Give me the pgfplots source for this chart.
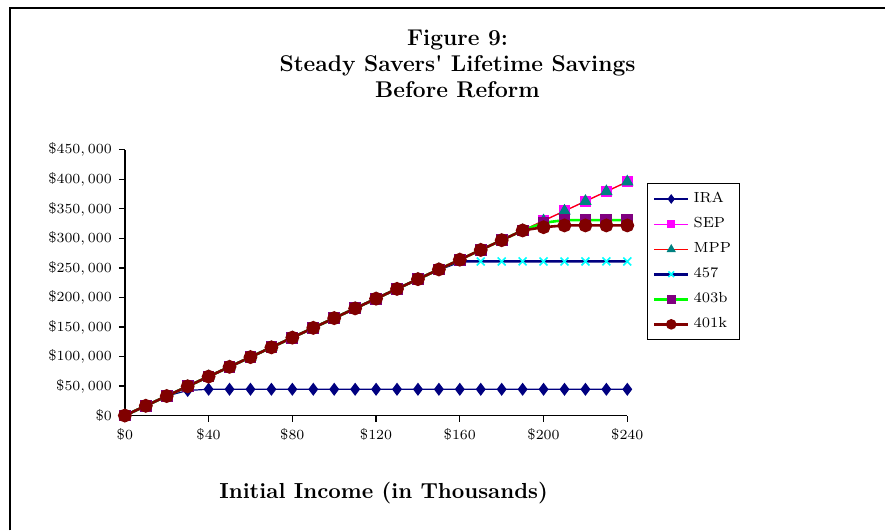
\documentclass[border=0pt]{standalone}
\usepackage{pgfplots}
\usepackage{pgfplotstable}
\pgfplotsset{compat=1.18}

\definecolor{iranavy}{RGB}{0,0,128}
\definecolor{sepmag}{RGB}{255,0,255}
\definecolor{mppred}{RGB}{255,0,0}
\definecolor{mppteal}{RGB}{0,128,128}
\definecolor{xcyan}{RGB}{0,255,255}
\definecolor{bgreen}{RGB}{0,255,0}
\definecolor{bpurple}{RGB}{128,0,128}
\definecolor{kred}{RGB}{128,0,0}

% income (thousands) vs lifetime savings, one column per plan
\pgfplotstableread{
x   ira    sep    mpp    f457   b403   k401
0   0      0      0      0      0      0
10  16500  16500  16500  16500  16500  16500
20  33000  33000  33000  33000  33000  33000
30  42500  49500  49500  49500  49500  49500
40  44500  66000  66000  66000  66000  66000
50  44500  82500  82500  82500  82500  82500
60  44500  99000  99000  99000  99000  99000
70  44500  115500 115500 115500 115500 115500
80  44500  132000 132000 132000 132000 132000
90  44500  148500 148500 148500 148500 148500
100 44500  165000 165000 165000 165000 165000
110 44500  181500 181500 181500 181500 181500
120 44500  198000 198000 198000 198000 198000
130 44500  214500 214500 214500 214500 214500
140 44500  231000 231000 231000 231000 231000
150 44500  247500 247500 247500 247500 247500
160 44500  264000 264000 261000 264000 264000
170 44500  280500 280500 261000 280500 280500
180 44500  297000 297000 261000 297000 297000
190 44500  313500 313500 261000 313500 313500
200 44500  330000 330000 261000 326500 319000
210 44500  346500 346500 261000 331000 322000
220 44500  363000 363000 261000 331000 322000
230 44500  379500 379500 261000 331000 322000
240 44500  396000 396000 261000 331000 322000
}\savings

\begin{document}
\begin{tikzpicture}
% page and frame
\path (0pt,0pt) rectangle (443pt,-265.5pt);
\draw[line width=1pt] (5pt,-265.5pt) -- (5pt,-4pt) -- (443pt,-4pt);

\node[align=center, font=\fontsize{11.4}{13}\selectfont\bfseries] at (229pt,-32pt)
  {Figure 9:\\Steady Savers\textquotesingle\ Lifetime Savings\\Before Reform};
\node[font=\fontsize{10.9}{12}\selectfont\bfseries] at (192pt,-247pt)
  {Initial Income (in Thousands)};

\begin{axis}[
    at={(62.5pt,-208pt)}, anchor=south west,
    scale only axis,
    width=251.5pt, height=133pt,
    xmin=0, xmax=240, ymin=0, ymax=450000,
    axis x line*=bottom, axis y line*=left,
    axis line style={line width=0.75pt},
    xtick={0,40,...,240},
    ytick={0,50000,...,450000},
    tick align=outside,
    major tick length=3pt,
    tick style={black, line width=0.6pt},
    scaled y ticks=false,
    xticklabel={\$\pgfmathprintnumber{\tick}},
    yticklabel={\$\pgfmathprintnumber[fixed, precision=0, 1000 sep={,}]{\tick}},
    tick label style={font=\fontsize{7.3}{9}\selectfont},
    clip=false,
    legend cell align=left,
    legend image post style={every mark/.append style={scale=0.7}},
    legend style={
        at={(1.04,0.876)}, anchor=north west,
        font=\fontsize{7.3}{8}\selectfont,
        draw=black, line width=0.5pt,
        row sep=2pt,
        inner sep=2.5pt,
    },
]
\addplot[iranavy, line width=0.6pt, mark=diamond*, mark size=2.8pt,
    mark options={fill=iranavy, draw=iranavy}] table[x=x, y=ira] {\savings};
\addlegendentry{IRA}
\addplot[sepmag, line width=0.6pt, mark=square*, mark size=2.5pt,
    mark options={fill=sepmag, draw=sepmag}] table[x=x, y=sep] {\savings};
\addlegendentry{SEP}
\addplot[mppred, line width=0.6pt, mark=triangle*, mark size=3pt,
    mark options={fill=mppteal, draw=mppteal}] table[x=x, y=mpp] {\savings};
\addlegendentry{MPP}
\addplot[iranavy, line width=1.3pt, mark=x, mark size=2.8pt,
    mark options={draw=xcyan, line width=0.8pt}] table[x=x, y=f457] {\savings};
\addlegendentry{457}
\addplot[bgreen, line width=1.3pt, mark=square*, mark size=2.3pt,
    mark options={fill=bpurple, draw=bpurple}] table[x=x, y=b403] {\savings};
\addlegendentry{403b}
\addplot[kred, line width=1.3pt, mark=*, mark size=2.8pt,
    mark options={fill=kred, draw=kred}] table[x=x, y=k401] {\savings};
\addlegendentry{401k}
\end{axis}
\end{tikzpicture}
\end{document}
